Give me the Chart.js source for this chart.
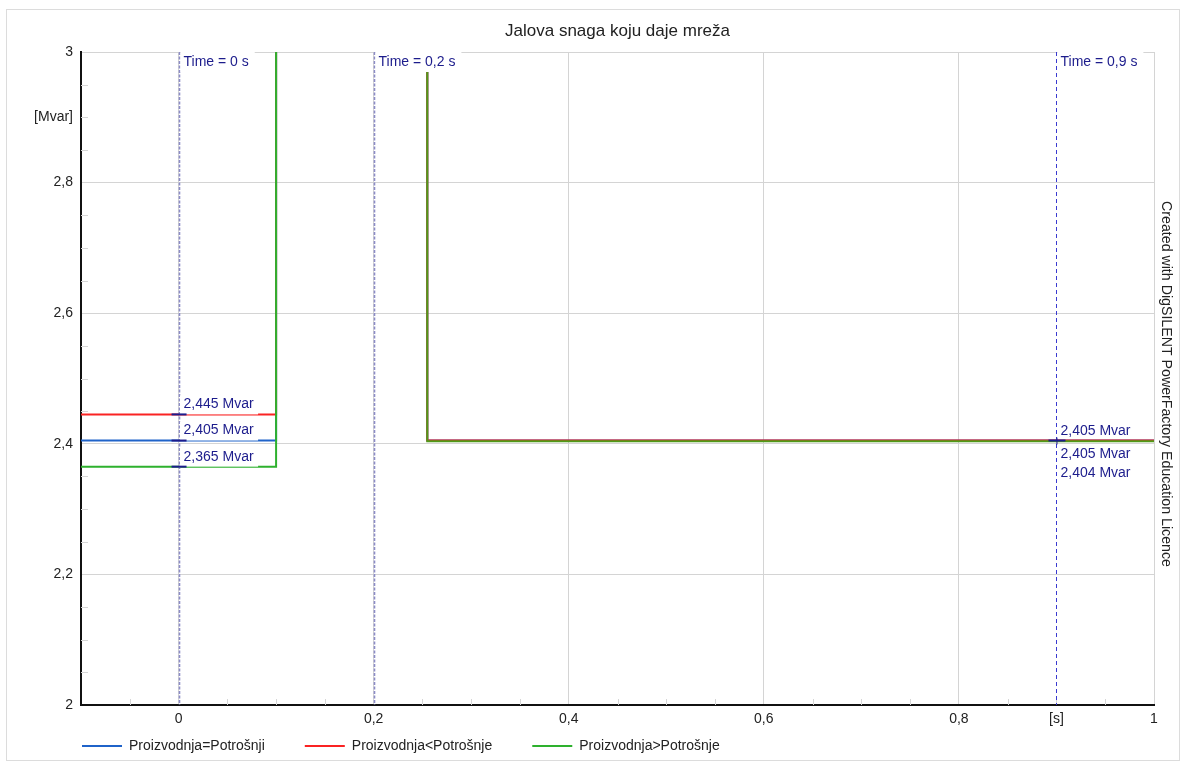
<!DOCTYPE html>
<html>
<head>
<meta charset="utf-8">
<script src="https://cdn.jsdelivr.net/npm/chart.js@4.4.1/dist/chart.umd.min.js"></script>
<style>
  html, body { margin: 0; padding: 0; background: #fff; }
  #wrap { position: relative; width: 1184px; height: 765px; }
  canvas { display: block; }
</style>
</head>
<body>
<div id="wrap"><canvas id="c" width="1184" height="765"></canvas></div>
<script>
// ---------------- data ----------------
const chartTitle = 'Jalova snaga koju daje mreža';
const sideNote = 'Created with DigSILENT PowerFactory Education Licence';
const seriesNames = ['Proizvodnja=Potrošnji', 'Proizvodnja<Potrošnje', 'Proizvodnja>Potrošnje'];
const timePoints = [-0.1, 0.1, 0.1, 0.255, 0.255, 1.0];
const blueValues  = [2.405, 2.405, 3.6, 3.6, 2.405, 2.405];
const redValues   = [2.445, 2.445, 3.6, 3.6, 2.405, 2.405];
const greenValues = [2.365, 2.365, 3.6, 3.6, 2.404, 2.404];
const yTickValues = [2, 2.2, 2.4, 2.6, 2.8, 3];
const xTickValues = [0, 0.2, 0.4, 0.6, 0.8, 1];
const yUnit = { value: 2.9, text: '[Mvar]' };
const xUnit = { value: 0.9, text: '[s]' };
const cursorTimes = [0, 0.2, 0.9];
const cursorTexts = ['Time = 0 s', 'Time = 0,2 s', 'Time = 0,9 s'];
const cursorAtZeroValues = [2.445, 2.405, 2.365];
const cursorAtEndValues = [2.405, 2.405, 2.404];
const valueUnit = 'Mvar';

// ---------------- styles ----------------
const FONT = "'Liberation Sans', Arial, sans-serif";
const colBlue = '#1f63c9', colRed = '#fa2323', colGreen = '#2eb12e', colOlive = '#4f9a1a';
const navy = '#1c1c8c';

const fmt = v => String(v).replace('.', ',');
const k100 = v => Math.round(v * 100);
const isMajorY = v => yTickValues.some(t => k100(t) === k100(v));
const isMajorX = v => xTickValues.some(t => k100(t) === k100(v));
const pts = vals => timePoints.map((t, i) => ({ x: t, y: vals[i] }));

const decor = {
  id: 'decor',
  beforeDraw(chart) {
    const ctx = chart.ctx;
    ctx.save();
    ctx.fillStyle = '#fff';
    ctx.fillRect(0, 0, chart.width, chart.height);
    ctx.strokeStyle = '#dcdcdc';
    ctx.lineWidth = 1;
    ctx.strokeRect(6.5, 9.5, 1173, 751);
    ctx.restore();
  },
  beforeDatasetsDraw(chart) {
    const { ctx, chartArea: a, scales: { x, y } } = chart;
    ctx.save();
    ctx.strokeStyle = '#d6d6d6';
    ctx.lineWidth = 1;
    y.ticks.forEach(t => {
      if (isMajorY(t.value)) return;
      const py = Math.round(y.getPixelForValue(t.value)) + 0.5;
      ctx.beginPath(); ctx.moveTo(a.left, py); ctx.lineTo(a.left + 7, py); ctx.stroke();
    });
    x.ticks.forEach(t => {
      if (isMajorX(t.value) || k100(t.value) === k100(x.min)) return;
      const px = Math.round(x.getPixelForValue(t.value)) + 0.5;
      ctx.beginPath(); ctx.moveTo(px, a.bottom); ctx.lineTo(px, a.bottom - 6); ctx.stroke();
    });
    ctx.restore();
  },
  afterDatasetsDraw(chart) {
    const { ctx, chartArea: a, scales: { x, y } } = chart;
    ctx.save();
    ctx.font = '14px ' + FONT;
    ctx.textBaseline = 'middle';
    cursorTimes.forEach((t, i) => {
      const px = Math.round(x.getPixelForValue(t)) + 0.5;
      ctx.save();
      if (i < 2) { ctx.strokeStyle = '#8c8cc6'; ctx.lineWidth = 1.6; ctx.setLineDash([3, 1.5]); }
      else { ctx.strokeStyle = '#3a3ad0'; ctx.lineWidth = 1; ctx.setLineDash([4, 3]); }
      ctx.beginPath(); ctx.moveTo(px, a.top); ctx.lineTo(px, a.bottom); ctx.stroke();
      ctx.restore();
      const w = ctx.measureText(cursorTexts[i]).width;
      ctx.fillStyle = '#fff';
      ctx.fillRect(px + 1, a.top - 1, w + 9, 21);
      ctx.fillStyle = navy;
      ctx.fillText(cursorTexts[i], px + 4, a.top + 10.5);
    });
    const p0 = x.getPixelForValue(cursorTimes[0]);
    cursorAtZeroValues.forEach(v => {
      const py = y.getPixelForValue(v);
      const txt = fmt(v) + ' ' + valueUnit;
      const w = ctx.measureText(txt).width;
      ctx.fillStyle = '#fff';
      ctx.fillRect(p0 + 1.5, py - 19, w + 8, 19);
      ctx.fillStyle = navy;
      ctx.fillText(txt, p0 + 5, py - 10);
      ctx.strokeStyle = navy; ctx.lineWidth = 2;
      ctx.beginPath(); ctx.moveTo(p0 - 7, py); ctx.lineTo(p0 + 8, py); ctx.stroke();
    });
    const p9 = x.getPixelForValue(cursorTimes[2]);
    const py9 = y.getPixelForValue(cursorAtEndValues[0]);
    ctx.strokeStyle = navy; ctx.lineWidth = 2;
    ctx.beginPath(); ctx.moveTo(p9 - 8, py9); ctx.lineTo(p9 + 9, py9); ctx.stroke();
    ctx.lineWidth = 1;
    ctx.beginPath(); ctx.moveTo(p9 + 0.5, py9 - 3); ctx.lineTo(p9 + 0.5, py9 + 4); ctx.stroke();
    ctx.fillStyle = navy;
    const offs = [-9, 14, 33];
    cursorAtEndValues.forEach((v, i) => {
      ctx.fillText(fmt(v) + ' ' + valueUnit, p9 + 4, py9 + offs[i]);
    });
    ctx.restore();
  },
  afterDraw(chart) {
    const { ctx, chartArea: a } = chart;
    ctx.save();
    ctx.fillStyle = '#222';
    ctx.font = '17px ' + FONT;
    ctx.textAlign = 'center';
    ctx.textBaseline = 'middle';
    ctx.fillText(chartTitle, (a.left + a.right) / 2, 31);
    ctx.font = '14.2px ' + FONT;
    ctx.save();
    ctx.translate(1166, 384);
    ctx.rotate(Math.PI / 2);
    ctx.fillText(sideNote, 0, 0);
    ctx.restore();
    ctx.font = '14px ' + FONT;
    ctx.textAlign = 'left';
    let lx = a.left + 1;
    const ly = 746;
    chart.data.datasets.forEach(d => {
      ctx.strokeStyle = d.borderColor; ctx.lineWidth = 2;
      ctx.beginPath(); ctx.moveTo(lx, ly); ctx.lineTo(lx + 40, ly); ctx.stroke();
      ctx.fillStyle = '#222';
      ctx.fillText(d.label, lx + 47, ly);
      lx += 47 + ctx.measureText(d.label).width + 40;
    });
    ctx.restore();
  }
};

new Chart(document.getElementById('c'), {
  type: 'line',
  data: {
    datasets: [
      { label: seriesNames[0], data: pts(blueValues), borderColor: colBlue, backgroundColor: colBlue, order: 3 },
      { label: seriesNames[1], data: pts(redValues), borderColor: colRed, backgroundColor: colRed, order: 2 },
      { label: seriesNames[2], data: pts(greenValues), borderColor: colGreen, backgroundColor: colGreen, order: 1,
        segment: { borderColor: c => (c.p0.parsed.x >= 0.25 ? colOlive : undefined) } }
    ]
  },
  options: {
    responsive: false,
    animation: false,
    devicePixelRatio: 1,
    layout: { padding: { left: 0, right: 30, top: 52, bottom: 0 } },
    elements: { line: { borderWidth: 2, tension: 0 }, point: { radius: 0 } },
    plugins: {
      legend: { display: false },
      tooltip: { enabled: false },
      title: { display: false }
    },
    scales: {
      x: {
        type: 'linear', min: -0.1, max: 1,
        afterFit: s => { s.height = 60; },
        grid: { drawTicks: false, color: c => (isMajorX(c.tick.value) ? '#d4d4d4' : 'rgba(0,0,0,0)'), lineWidth: 1 },
        border: { color: '#111', width: 2 },
        ticks: {
          stepSize: 0.05, maxTicksLimit: 31, autoSkip: false, maxRotation: 0, padding: 6,
          color: '#222', font: { family: FONT, size: 14 },
          callback: v => {
            if (k100(v) === k100(xUnit.value)) return xUnit.text;
            const hit = xTickValues.find(t => k100(t) === k100(v));
            return hit !== undefined ? fmt(hit) : '';
          }
        }
      },
      y: {
        min: 2, max: 3,
        afterFit: s => { s.width = 81; },
        grid: { drawTicks: false, color: c => (isMajorY(c.tick.value) ? '#d4d4d4' : 'rgba(0,0,0,0)'), lineWidth: 1 },
        border: { color: '#111', width: 2 },
        ticks: {
          stepSize: 0.05, maxTicksLimit: 31, autoSkip: false, padding: 8,
          color: '#222', font: { family: FONT, size: 14 },
          callback: v => {
            if (k100(v) === k100(yUnit.value)) return yUnit.text;
            const hit = yTickValues.find(t => k100(t) === k100(v));
            return hit !== undefined ? fmt(hit) : '';
          }
        }
      }
    }
  },
  plugins: [decor]
});
</script>
</body>
</html>
